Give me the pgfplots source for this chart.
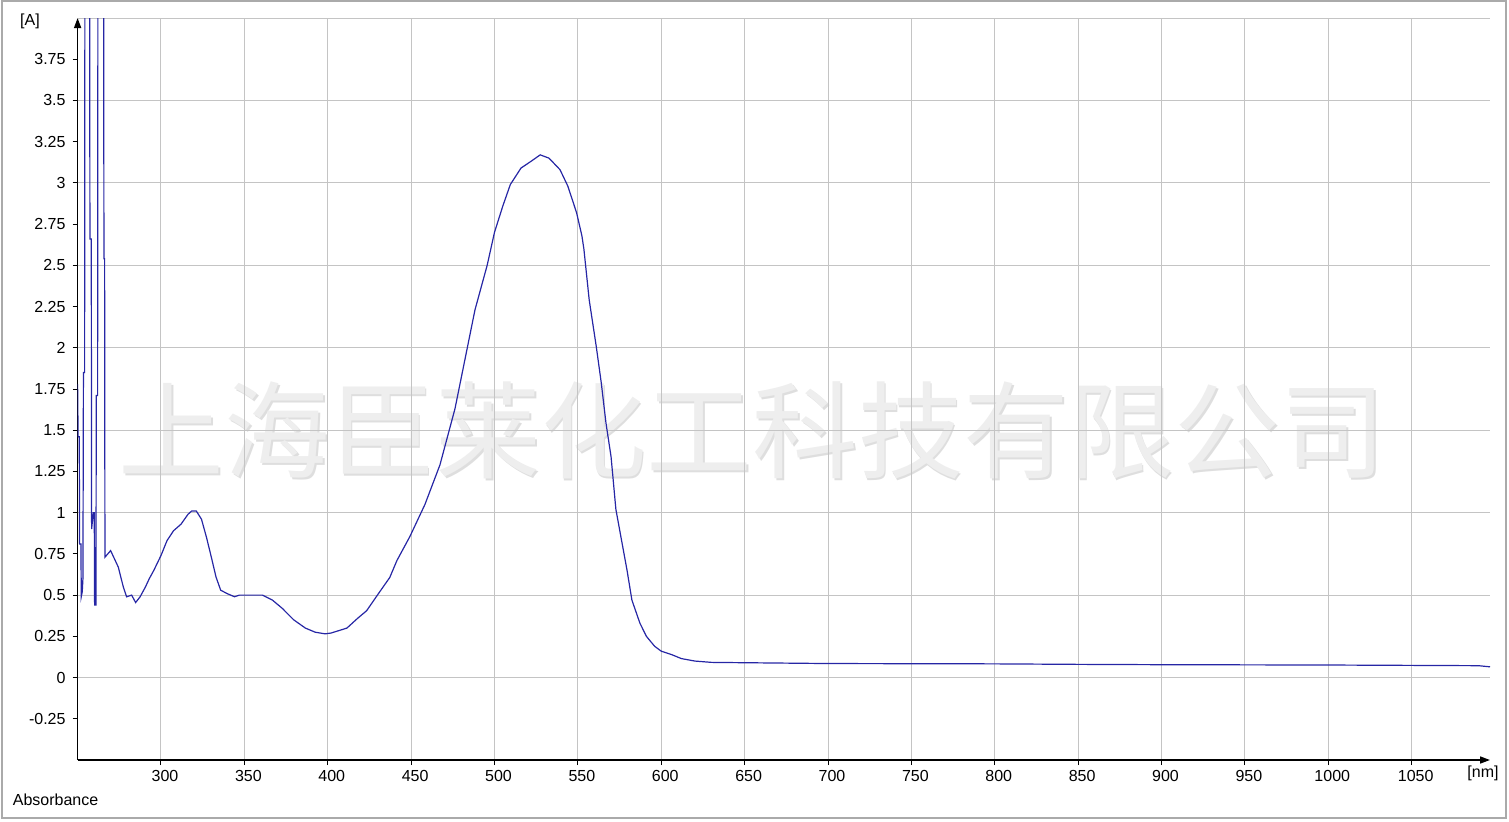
\documentclass[border=0pt]{standalone}
\usepackage{fontspec}
\setmainfont{Liberation Sans}
\newfontfamily\cjk{Noto Sans CJK SC}
\usepackage{pgfplots}
\pgfplotsset{compat=1.18}
\usetikzlibrary{arrows.meta}
\definecolor{curve}{RGB}{38,38,165}
\definecolor{gridc}{RGB}{196,196,196}
\definecolor{framec}{RGB}{170,170,170}
\definecolor{wmark}{RGB}{238,238,238}
\definecolor{wshadow}{RGB}{222,222,222}

\begin{document}
\begin{tikzpicture}
\begin{scope}[x=0.5pt,y=-0.5pt]
\useasboundingbox (0,0) rectangle (1509,822);
\draw[framec,line width=1pt] (1.5,1.5) rectangle (1506,818);
% watermark
\node[text=wshadow,inner sep=0pt] at (754,432) {\cjk\fontsize{52.8}{53}\selectfont 上海臣莱化工科技有限公司};
\node[text=wmark,inner sep=0pt] at (752.5,430.5) {\cjk\fontsize{52.8}{53}\selectfont 上海臣莱化工科技有限公司};
\end{scope}

\begin{axis}[
  at={(38.8pt,-380pt)}, anchor=south west,
  scale only axis, width=706.2pt, height=371pt,
  xmin=250, xmax=1097, ymin=-0.5, ymax=4,
  axis lines=left,
  axis line style={line width=0.75pt, black},
  x axis line style={-{Triangle[length=5pt,width=3.5pt]}},
  y axis line style={-{Triangle[length=5pt,width=3.5pt]}},
  xtick={300,350,...,1050},
  ytick={-0.25,0,0.25,0.5,0.75,1,1.25,1.5,1.75,2,2.25,2.5,2.75,3,3.25,3.5,3.75},
  xmajorgrids=true,
  major grid style={gridc, line width=0.5pt},
  extra y ticks={0,0.5,1,1.5,2,2.5,3,3.5,4},
  extra y tick labels={},
  extra y tick style={grid=major, major tick length=0pt},
  tick align=outside, major tick length=2.5pt,
  tick style={black, line width=0.5pt},
  ticklabel style={font=\fontsize{8}{9.6}\selectfont},
  xticklabel style={xshift=2pt, yshift=1pt},
  /pgf/number format/.cd, fixed, precision=2, 1000 sep={}, assume math mode=true
]
\addplot[curve, line width=0.6pt] table {
250.0 1.78
250.3 1.46
251.0 1.46
251.2 0.81
252.0 0.81
252.2 0.49
252.8 0.52
253.2 0.60
253.5 1.85
254.2 1.85
254.4 4.5
257.2 4.5
257.4 2.66
258.2 2.66
258.4 0.90
259.0 0.96
259.4 1.00
260.0 1.00
260.2 0.44
261.0 0.44
261.2 1.71
262.0 1.71
262.2 4.5
265.6 4.5
265.8 2.54
266.2 2.54
266.4 0.73
269.8 0.77
274.4 0.67
277.4 0.55
279.4 0.49
282.4 0.50
284.8 0.455
287.5 0.49
290.7 0.55
293 0.60
295.7 0.65
300 0.74
303.6 0.83
307.5 0.89
312 0.93
316.2 0.99
318.4 1.01
321.2 1.01
324.3 0.96
327.3 0.85
330.2 0.73
333 0.61
335.8 0.53
339.5 0.51
344.1 0.49
347 0.50
355 0.50
360.9 0.50
366.8 0.47
372.7 0.42
379.6 0.35
386.6 0.30
392.5 0.275
398.4 0.265
402 0.27
411.5 0.30
418 0.36
423.3 0.405
430.2 0.506
437.2 0.607
441.5 0.71
449.3 0.856
458.3 1.05
467.3 1.29
476.3 1.63
482.3 1.93
488.3 2.23
495.6 2.50
500 2.70
505 2.86
509.5 2.99
515.9 3.09
521.8 3.13
527.4 3.17
532.7 3.15
539.3 3.08
544 2.98
549.2 2.82
552.4 2.68
553.6 2.60
556.8 2.29
561 2.01
564 1.79
566.9 1.54
569.9 1.34
572.8 1.02
576.6 0.81
579.5 0.65
582.4 0.47
587.2 0.33
591.1 0.25
596 0.19
600 0.16
606 0.14
612.1 0.115
620.2 0.10
630.2 0.092
650 0.09
700 0.085
800 0.083
850 0.08
900 0.078
1000 0.076
1090 0.072
1097 0.065
};
\end{axis}

\begin{scope}[x=0.5pt,y=-0.5pt]
\node[font=\fontsize{8}{9.6}\selectfont] at (30,21) {[A]};
\node[font=\fontsize{8}{9.6}\selectfont] at (1483,773) {[nm]};
\node[font=\fontsize{8}{9.6}\selectfont,anchor=base west,inner sep=0pt] at (12.5,805) {Absorbance};
\end{scope}
\end{tikzpicture}
\end{document}
